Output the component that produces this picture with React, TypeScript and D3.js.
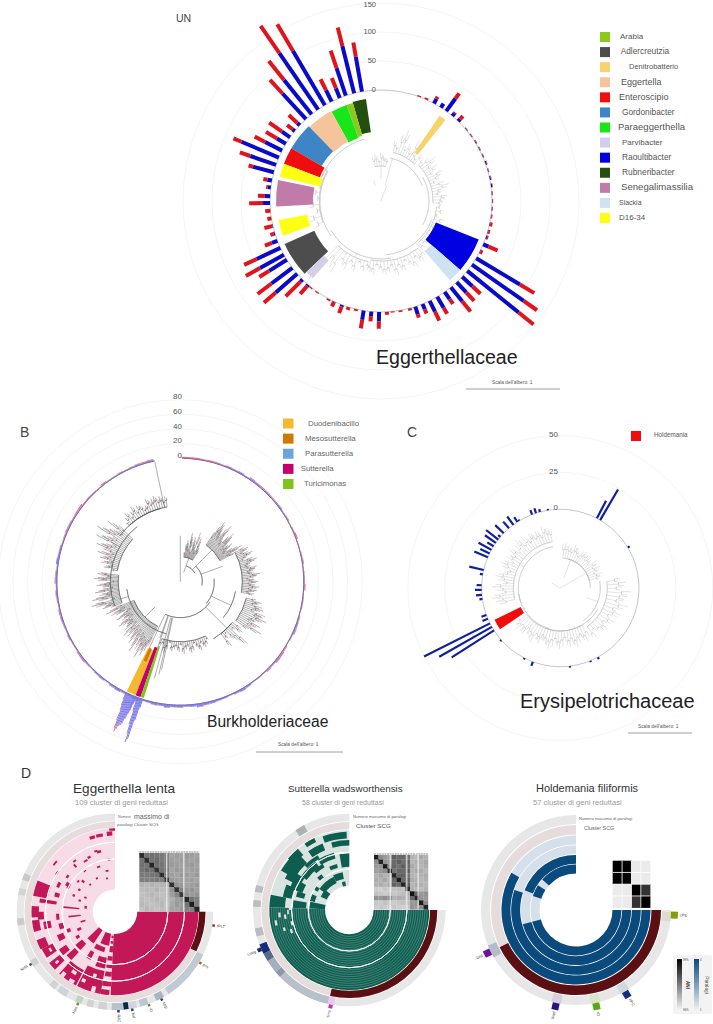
import * as d3 from 'd3'

const W = 713
const H = 1024
const rad = (d: number) => (d * Math.PI) / 180
const sector = d3.arc<any>()
const FONT = '"Liberation Sans", Arial, sans-serif'

// ---- Panel A: Eggerthellaceae ----
const aAngles = [20, 24, 28.5, 32.7, 36, 40, 44, 50, 54, 58, 62, 66, 70, 74, 78, 82, 86, 90, 94, 98, 102, 106, 109, 113, 117, 121, 125, 129, 133, 137, 141, 145, 149.6, 154, 158, 162, 165, 170, 174, 177, 181, 185, 189, 193, 197, 200.5, 205, 208, 215, 219, 221, 225, 229, 233, 238, 241, 245, 249, 253, 257, 261, 265, 269, 272.5, 277, 280.6, 285, 289, 293, 297, 301, 305, 309, 313, 317.5, 321.3, 325.5, 329.6, 333.6, 338.2, 341.5, 346, 350.1]
const aBlue = [0, 0, 9, 8, 27, 6, 5, 1, 1, 1, 1, 1, 2, 1, 2, 2, 1, 1, 1, 1, 1, 1, 2, 10, 1, 88, 109, 114, 24, 24, 31, 15, 22, 21, 10, 14, 1, 0, 0, 0, 16, 8, 16, 0, 0, 3, 1, 0, 0, 0, 3, 5, 49, 45, 36, 47, 45, 10, 2, 1, 0, 0, 12, 9, 5, 8, 37, 47, 70, 33, 18, 17, 5, 6, 60, 76, 118, 109, 22, 18, 50, 84, 61]
const aRed = [2, 3, 4, 0, 11, 2, 7, 1, 1, 1.5, 1, 1, 1, 1, 1, 1, 1, 1, 1, 1.5, 4, 3, 2, 17, 4, 29, 28, 33, 19, 20, 23, 10, 12, 17, 8, 6, 3, 3, 2, 5, 13, 9, 15, 3, 5, 12, 8, 3, 2, 2, 18, 36, 27, 30, 20, 28, 24, 13, 6, 14, 7, 9, 24, 12, 3, 7, 8, 19, 15, 20, 22, 27, 12, 20, 32, 42, 57, 53, 21, 19, 32, 33, 25]
const aTicks = [0, 50, 100, 150]
const aGenera = ['Arabia', 'Adlercreutzia', 'Denitrobatterio', 'Eggertella', 'Enteroscipio', 'Gordonibacter', 'Paraeggerthella', 'Parvibacter', 'Raoultibacter', 'Rubneribacter', 'Senegalimassilia', 'Slackia', 'D16-34']
const aColors = ['#8cc820', '#4d4d4d', '#f7d36b', '#f6c49b', '#f00d0d', '#3d85c6', '#19e619', '#d3cfe8', '#0000e0', '#24500f', '#c17ba8', '#cfe2f3', '#ffff14']
const aLabelX = [620, 620.7, 629, 621, 619, 622, 618, 622, 622, 622, 621, 619, 619]
const aLabelSize = [8, 8.3, 7.5, 9, 9, 8.3, 9.5, 8, 8.4, 8.4, 9.6, 7, 8]
// genus index, from, to, inner, outer
const aWedges = [
  [9, 344, 351.6, 69.5, 103], [0, 340.3, 344, 68, 102], [6, 331, 340.3, 67, 102], [3, 316, 331, 68, 103],
  [5, 300.5, 316, 69, 104], [4, 291, 300.5, 65.5, 104], [12, 283.5, 291, 62.5, 104], [10, 267, 281.5, 68, 105],
  [12, 250.5, 259.5, 75, 104], [1, 226.4, 246, 73, 105.5], [7, 221.5, 226.4, 79, 103], [2, 34.5, 38.5, 59, 103.5],
  [8, 111.5, 131, 59, 105], [11, 131, 139, 66.5, 105],
]

type Clade = { from: number; to: number; stem: number; tips: number[] }
const aClades: Clade[] = [
  { from: -10, to: 8, stem: 35, tips: [44, 47, 42, 48, 45, 43] },
  { from: 14, to: 42, stem: 50, tips: [62, 58, 70, 76, 60, 64, 58, 72, 60, 56, 62] },
  { from: 46, to: 92, stem: 52, tips: [58, 64, 70, 62, 66, 60, 68, 64, 58, 66, 70, 62, 60, 66, 64, 62] },
  { from: 96, to: 138, stem: 56, tips: [60, 63, 58, 66, 62, 60, 64, 70, 66, 62, 64] },
  { from: 142, to: 190, stem: 60, tips: [70, 74, 68, 76, 72, 66, 74, 70, 76, 68, 72, 74, 70, 66, 74, 72] },
  { from: 192, to: 224, stem: 62, tips: [68, 72, 66, 76, 70, 78, 74, 88, 80, 107] },
  { from: 250, to: 300, stem: 62, tips: [70, 74, 66, 72, 64, 68, 63, 66, 65, 64] },
]
const aBackbone = [[12, 70, 44], [60, 120, 48], [110, 175, 54], [170, 240, 58], [235, 300, 61], [290, 345, 64]]
const aStems = [[20, 0, 16], [340, 16, 22], [0, 22, 35], [15, 16, 44], [140, 54, 60], [205, 58, 62]]

// ---- Panel B: Burkholderiaceae ----
const bTicks = [0, 20, 40, 60, 80]
const bGenera = ['Duodenibacillo', 'Mesosutterella', 'Parasutterella', 'Sutterella', 'Turicimonas']
const bColors = ['#f5b82e', '#cc7a00', '#6aa6dc', '#c4006a', '#7dc41e']
const bLabelX = [308, 305, 305, 300.7, 304]
const bBlue = [0, 0, 0, 0, 0, 1, 1, 2, 1, 2, 1, 2, 2, 1, 2, 1, 1, 2, 1, 1, 0, 1, 1, 0, 0, 1, 1, 0, 1, 1, 1, 0, 1, 1, 0, 1, 2, 2, 1, 0, 1, 1, 2, 1, 1, 0, 1, 1, 2, 3, 2, 1, 2, 2, 3, 3, 4, 3, 2, 3, 3, 4, 3, 3, 2, 2, 3, 2, 2, 3, 2, 1, 2, 2, 1, 1, 2, 1, 1, 1, 2, 1, 1, 2, 1, 1, 1, 2, 1, 2, 2, 1, 3, 2, 2, 1, 1, 1, 2, 1, 1, 1, 0, 1, 1, 0, 1, 1, 1, 1, 1, 1, 2, 1, 2]
const bRed = [2, 2, 2, 1.5, 2, 1, .5, .5, 1, .5, .5, 1, .5, 1.5, .5, 1, 1, .5, .5, 1, .5, .5, 1.5, .5, .5, .5, 1, .5, .5, .5, 1.5, .5, .5, .5, .5, 1, .5, 1, .5, .5, 1, 2, 1.5, 1, 1.5, 1, .5, 0, .5, .5, .5, .5, 0, .5, 0, .5, .5, 0, .5, .5, 0, .5, 0, .5, .5, 0, .5, .5, .5, .5, 1, .5, .5, 0, .5, 1, 1, 1.5, .5, .5, .5, .5, 1, .5, 1.5, .5, 1, .5, .5, 1, .5, .5, 0, .5, .5, .5, 1, 1.5, .5, 1, 1.5, 2, 1.5, 1, .5, 1, 1.5, .5, .5, 1, .5, 1, .5, 1.5, 1]
const bLongAngles = [206, 205.6, 205.2, 204.8, 204.4, 204, 203.6, 203.2, 202.8, 202.4, 202, 201.7, 201.4, 201.1, 200.6, 200.2, 199.8, 199.4, 199, 198.6, 198.2, 197.8]
const bLongBlue = [8, 15, 22, 34, 44, 48, 46, 42, 40, 38, 30, 24, 18, 10, 6, 18, 36, 48, 62, 56, 30, 12]
const bLongRed = [2, 3, 3, 5, 7, 7, 5, 4, 4, 3, 3, 2, 2, 1, 1, 1, 2, 3, 1, 2, 1, 1]
const bWedges = [[0, 201.5, 206, 74, 122], [3, 199, 201.5, 70, 122], [4, 197.4, 199, 68, 122], [1, 203, 205, 73, 87]]
const bClades: Clade[] = [
  { from: 8, to: 30, stem: 25, tips: [30, 38, 42, 36, 50, 44, 33, 47, 40, 53, 35, 48, 41, 37] },
  { from: 35, to: 62, stem: 45, tips: [60, 68, 74, 72, 66, 62, 70, 75, 64, 60, 58, 66, 72, 68, 62, 56, 60, 64, 58, 55, 62, 67, 71, 59, 63] },
  { from: 62, to: 100, stem: 62, tips: [72, 76, 70, 74, 78, 72, 68, 76, 80, 74, 70, 72, 78, 76, 72, 74, 80, 76, 70, 74, 78, 72, 75, 79, 73, 77, 71, 75] },
  { from: 104, to: 125, stem: 68, tips: [78, 84, 80, 86, 88, 82, 92, 90, 95, 88, 84, 92, 87, 96, 83] },
  { from: 128, to: 142, stem: 66, tips: [76, 80, 72, 92, 84, 78, 70, 74, 82] },
  { from: 155, to: 198, stem: 60, tips: [64, 68, 70, 66, 72, 68, 64, 70, 72, 66, 68, 72, 64, 70, 66, 68, 70, 62, 69, 73, 65, 67] },
  { from: 207, to: 248, stem: 50, tips: [72, 78, 84, 80, 88, 76, 82, 72, 86, 78, 70, 80, 74, 68, 76, 72, 78, 66, 74, 70, 68, 72, 76, 64, 70, 66, 74, 68, 62, 72, 77, 69, 81, 73] },
  { from: 250, to: 276, stem: 62, tips: [74, 82, 78, 88, 92, 72, 84, 90, 78, 82, 74, 86, 80, 72, 78, 84, 76, 70, 82, 86, 75, 79, 83] },
  { from: 280, to: 312, stem: 64, tips: [70, 78, 74, 82, 76, 84, 80, 88, 78, 84, 92, 86, 80, 96, 90, 84, 100, 92, 88, 82, 94, 86] },
  { from: 318, to: 350, stem: 76, tips: [80, 84, 88, 82, 86, 90, 84, 88, 86, 82, 84, 90, 86, 88, 90, 86, 88, 84, 87] },
]
const bBackbone = [[250, 322, 70], [195, 262, 54], [125, 205, 36], [85, 130, 34], [45, 100, 22], [20, 60, 17], [100, 130, 56], [130, 150, 66], [307, 345, 76]]
const bStems = [[300, 70, 80], [254, 54, 62], [225, 36, 50], [200, 36, 60], [115, 34, 56], [135, 36, 66], [70, 22, 45], [45, 17, 45], [20, 10, 25], [0, 0, 46], [348, 76, 122], [195, 37, 100], [193, 37, 95], [192, 37, 90], [205, 37, 74], [199, 37, 88]]

// ---- Panel C: Erysipelotrichaceae ----
const cTicks = [0, 25, 50]
const cAngles = [27.7, 30.4, 59, 151.5, 157.6, 173, 200.4, 207, 228.5, 237.4, 240.4, 243.3, 247, 250, 262, 265, 268.7, 272, 280, 283.2, 293, 296, 299, 302, 305, 308, 310.5, 314, 319.3, 323.4, 327, 328.5, 339, 342, 345, 351]
const cValues = [13.4, 24, 1.5, 1.5, 1, 1, 3, 1, 1, 34, 41, 50, 4, 3.5, 2, 4, 4.5, 3.4, 2, 10, 10, 7, 10, 5, 9, 10.5, 2, 8, 6, 7, 4, 1, 3.2, 3.5, 2, 1]
const cClades: Clade[] = [
  { from: 5, to: 75, stem: 30, tips: [44, 45, 43, 42, 46, 44, 40, 43, 45, 42, 44, 40, 46, 43, 45, 41, 44, 42] },
  { from: 82, to: 145, stem: 47, tips: [60, 66, 62, 71, 68, 64, 70, 63, 66, 60, 64, 58, 62, 60, 56, 61] },
  { from: 150, to: 232, stem: 43, tips: [56, 60, 55, 58, 62, 57, 60, 54, 58, 61, 56, 59, 62, 58, 55, 60, 57, 62, 59, 56, 60, 58, 61, 57] },
  { from: 256, to: 350, stem: 47, tips: [62, 66, 70, 60, 64, 68, 58, 63, 66, 60, 56, 62, 65, 58, 62, 60, 64, 58, 62, 66, 60, 63, 59, 64, 60, 62, 58, 64, 61, 59] },
]
const cBackbone = [[15, 90, 30], [80, 145, 40], [120, 200, 43], [195, 262, 42], [250, 350, 42]]
const cStems = [[300, 0, 10], [60, 0, 28], [110, 28, 40], [20, 10, 30], [160, 40, 43], [240, 40, 45], [300, 42, 47]]

// ---- Panel D heatmaps: [from, to, inner %, outer %] ----
const d1Blocks = [
  [90, 183, 0, 100], [183, 188, 3, 7], [183, 188, 12, 16], [183, 188, 20, 30], [183, 189, 37, 44], [183, 189, 50, 56], [183, 189, 62, 70], [183, 190, 78, 86], [184, 190, 92, 100],
  [190, 207, 62, 100], [190, 200, 40, 58], [208, 222, 72, 100], [190, 205, 0, 20], [195, 210, 24, 32], [207, 212, 38, 52], [214, 226, 0, 26], [222, 230, 34, 48], [222, 228, 52, 70], [230, 236, 60, 74], [226, 232, 78, 100], [236, 243, 78, 98], [243, 250, 85, 100], [242, 248, 55, 66], [252, 258, 50, 58], [256, 262, 70, 82], [256, 264, 88, 100], [264, 270, 80, 90], [266, 274, 88, 100], [277, 280, 60, 88], [263, 265, 20, 40], [276, 281, 10, 14], [274, 276, 22, 48], [281, 292, 76, 100], [284, 288, 58, 66], [293, 298, 63, 68], [298, 302, 48, 56], [242, 246, 25, 32], [234, 238, 34, 40], [252, 255, 14, 22], [246, 250, 42, 48], [262, 268, 55, 60],
  [307, 311, 88, 91], [318, 320, 60, 66], [320, 323, 68, 71], [333, 336, 60, 64], [328, 332, 58, 61], [341, 345, 88, 93], [341, 344, 66, 69], [343, 347, 63, 67], [346, 351, 88, 93], [354, 358, 88, 95], [356, 360, 96, 100], [347, 351, 30, 33], [345, 348, 18, 21], [322, 325, 45, 47], [312, 315, 33, 38], [300, 303, 30, 34], [308, 311, 40, 43], [296, 299, 48, 52], [302, 305, 76, 79], [290, 293, 34, 38], [286, 289, 22, 26], [294, 297, 15, 19], [330, 333, 24, 27], [338, 342, 40, 43], [352, 355, 48, 51], [305, 308, 58, 62], [316, 319, 22, 25],
]
const d1Gaps = [[196, 199, 70, 76], [203, 206, 84, 90], [212, 216, 80, 86], [194, 197, 90, 100], [200, 203, 50, 54], [218, 221, 92, 100], [210, 214, 94, 100], [228, 230, 86, 92], [238, 241, 84, 88]]
const d2Blocks = [
  [90, 272, 0, 100], [272, 281, 72, 100], [272, 280, 34, 58], [272, 282, 0, 28], [281, 292, 62, 78], [284, 290, 40, 55],
  [300, 318, 70, 98], [296, 305, 55, 85], [305, 325, 50, 62], [325, 338, 72, 85], [340, 358, 85, 97], [345, 360, 72, 82], [315, 330, 63, 70], [318, 330, 45, 52], [328, 345, 52, 63], [305, 335, 10, 22], [335, 350, 13, 25], [350, 360, 34, 58], [295, 310, 1, 13], [290, 300, 46, 70], [310, 320, 85, 100], [335, 345, 35, 42], [315, 322, 30, 38], [345, 352, 0, 8], [283, 293, 20, 30], [326, 334, 92, 100], [300, 306, 22, 30],
]
const d2Gaps = [[262, 266, 70, 74], [255, 259, 60, 64], [248, 252, 65, 69], [266, 270, 65, 68], [258, 262, 88, 92], [270, 272, 60, 65], [264, 268, 80, 84], [252, 255, 76, 80]]
// Holdemania: one row of dark spans per genome
const d3Rows = [
  [[90, 255], [288, 303], [312, 360]],
  [[90, 255], [291, 360]],
  [[90, 288]],
  [[90, 300]],
]
// outer ring cells [from, to, colour]
const d1Ring: [number, number, string][] = [[116, 147, '#c0cad4'], [150, 155, '#aab6c4'], [160, 165, '#bac8d2'], [167, 172, '#ccd6dc'], [172, 175, '#0a2a4a'], [175, 182, '#b8c2ca'], [185, 190, '#d2d2d2'], [193, 197, '#d2d2d2'], [200, 204, '#c4d2c4'], [210, 216, '#ccd6d8'], [218, 222, '#d2d2d2'], [236, 240, '#ccd2d2'], [262, 266, '#cacaca'], [280, 284, '#d4d4d4'], [289, 293, '#cacaca']]
const d2Ring: [number, number, string][] = [[193, 226, '#b8c0cc'], [226, 230, '#8a9aa8'], [230, 238, '#a4b0bf'], [238, 243, '#566a8a'], [243, 249, '#1a2a7a'], [254, 259, '#bbbbc2'], [272, 276, '#bbbbc2'], [281, 285, '#bbbbc2'], [326, 332, '#a9b3b3'], [189, 193, '#ecc8f0']]
const d3Ring: [number, number, string][] = [[91, 97, '#dcdcd0'], [146, 152, '#d0d8e0'], [165, 171, '#d8e4cc'], [189, 195, '#d4d0e0'], [240, 248, '#b4bcc8']]
// marker square + label outside the ring [angle, colour, label]
const d1Marks: [number, string, string][] = [[98, '#8a3010', 'tPLT'], [121, '#b06020', 'pro'], [152, '#2a3a70', 'Mrp'], [160, '#609020', 'iO'], [170, '#2a3a70', 'Nrf'], [178, '#2a3a70', 'RdC'], [202, '#709020', 'Nos'], [238, '#555555', 'NrfA']]
const d2Marks: [number, string, string][] = [[191, '#c030c0', 'Tms'], [246, '#1a2a7a', 'Lmrg']]
const d3Marks: [number, string, string][] = [[93, '#8a9a10', 'cPE'], [149, '#14307a', 'hPC'], [168, '#55aa11', 'rO'], [192, '#2a1088', 'Nqrf'], [244, '#7010a0', 'Grd']]

// ANI matrices, darkness 0..1
const d1Matrix = [
  [.82, .55, .56, .54, .52, .5, .36, .38, .36, .4, .38, .36],
  [.55, .8, .55, .58, .52, .5, .38, .36, .38, .38, .36, .38],
  [.56, .55, .85, .56, .54, .5, .4, .38, .36, .38, .4, .36],
  [.54, .58, .56, .78, .55, .52, .36, .4, .38, .36, .38, .38],
  [.52, .52, .54, .55, .8, .5, .38, .36, .4, .38, .36, .4],
  [.5, .5, .5, .52, .5, .75, .4, .38, .38, .36, .38, .36],
  [.3, .28, .3, .28, .3, .32, .8, .42, .4, .36, .38, .4],
  [.26, .28, .26, .3, .26, .28, .42, .78, .48, .4, .42, .38],
  [.24, .26, .28, .26, .24, .28, .38, .48, .75, .42, .4, .42],
  [.26, .24, .26, .28, .26, .26, .32, .38, .42, .85, .55, .5],
  [.28, .26, .24, .26, .28, .24, .34, .4, .38, .55, .9, .5],
  [.24, .28, .26, .24, .26, .26, .36, .36, .4, .5, .5, .85],
]
const d1Seps = [5.5, 8.9]
const d2Matrix = [
  [.9, .45, .4, .38, .62, .58, .6, .55, .3, .28, .34, .3],
  [.45, .85, .42, .4, .58, .62, .56, .6, .28, .32, .3, .34],
  [.4, .42, .9, .45, .6, .56, .62, .58, .34, .3, .28, .32],
  [.38, .4, .45, .82, .55, .6, .58, .62, .3, .34, .32, .28],
  [.3, .34, .3, .32, .85, .6, .62, .55, .3, .28, .3, .32],
  [.32, .3, .34, .3, .6, .9, .58, .6, .32, .3, .28, .3],
  [.3, .32, .28, .34, .62, .58, .85, .62, .28, .32, .3, .28],
  [.2, .18, .22, .2, .24, .26, .24, .8, .3, .28, .26, .3],
  [.24, .22, .2, .24, .22, .24, .26, .3, .95, .6, .4, .42],
  [.42, .4, .44, .42, .3, .32, .3, .28, .6, .85, .42, .4],
  [.22, .2, .24, .22, .2, .22, .24, .26, .4, .42, .9, .45],
  [.2, .22, .2, .18, .22, .2, .18, .22, .42, .4, .45, .85],
]
const d2Seps = [3.6, 7.3, 9.8]
const d3Matrix = [
  [1, 1, .08, .08],
  [1, 1, .08, .08],
  [.08, .08, 1, .8],
  [.08, .08, .8, 1],
]

function Polar({ a, r0, r1, stroke, width }: { a: number; r0: number; r1: number; stroke: string; width: number }) {
  const p0 = d3.pointRadial(rad(a), r0)
  const p1 = d3.pointRadial(rad(a), r1)
  return <line x1={p0[0]} y1={p0[1]} x2={p1[0]} y2={p1[1]} stroke={stroke} strokeWidth={width} />
}

function ThinArc({ a0, a1, r, stroke, width }: { a0: number; a1: number; r: number; stroke: string; width: number }) {
  return (
    <path
      d={sector({ innerRadius: r, outerRadius: r, startAngle: rad(a0), endAngle: rad(a1) }) || ''}
      fill="none"
      stroke={stroke}
      strokeWidth={width}
    />
  )
}

function Tree({ clades, backbone, stems, color, accent, width }: { clades: Clade[]; backbone: number[][]; stems: number[][]; color: string; accent?: string; width: number }) {
  return (
    <g>
      {backbone.map((b, i) => <ThinArc key={i} a0={b[0]} a1={b[1]} r={b[2]} stroke={color} width={width} />)}
      {stems.map((s, i) => <Polar key={i} a={s[0]} r0={s[1]} r1={s[2]} stroke={color} width={width} />)}
      {clades.map((c, i) => {
        const angle = d3.scaleLinear().domain([0, c.tips.length - 1]).range([c.from, c.to])
        const fork = (c.to - c.from) / (c.tips.length - 1) * 0.34
        return (
          <g key={i}>
            <ThinArc a0={c.from} a1={c.to} r={c.stem} stroke={color} width={width} />
            {c.tips.map((t, j) => {
              // each leaf pair hangs off a short node between stem and tip
              const mid = c.stem + (t - c.stem) * 0.6
              const a = angle(j)
              const tone = accent && j % 3 === 0 ? accent : color
              return (
                <g key={j}>
                  <Polar a={a} r0={c.stem} r1={mid} stroke={color} width={width} />
                  <ThinArc a0={a - fork} a1={a + fork} r={mid} stroke={color} width={width} />
                  <Polar a={a - fork} r0={mid} r1={t} stroke={tone} width={width} />
                  <Polar a={a + fork} r0={mid} r1={c.stem + (t - c.stem) * 0.85} stroke={color} width={width} />
                </g>
              )
            })}
          </g>
        )
      })}
    </g>
  )
}

function Grid({ radii, stroke }: { radii: number[]; stroke: string }) {
  return <g fill="none" stroke={stroke} strokeWidth={0.7}>{radii.map(r => <circle key={r} r={r} />)}</g>
}

function ScaleBar({ x0, x1, y, tx, ty }: { x0: number; x1: number; y: number; tx: number; ty: number }) {
  return (
    <g>
      <line x1={x0} x2={x1} y1={y} y2={y} stroke="#888" strokeWidth={0.8} />
      <text x={tx} y={ty} fontSize={4.8} fill="#555" dominantBaseline="middle">Scala dell'albero: 1</text>
    </g>
  )
}

function PanelA() {
  const r = d3.scaleLinear().domain([0, 150]).range([111, 198])
  const blueBar = '#0a0ac8'
  const redBar = '#e0141c'
  return (
    <g>
      <g transform="translate(381,201)">
        <Grid radii={aTicks.slice(1).map(t => r(t))} stroke="#f1f1f1" />
        <circle r={r(0)} fill="none" stroke="#8a8a8a" strokeWidth={0.5} />
        <Tree clades={aClades} backbone={aBackbone} stems={aStems} color="#b0b0b0" width={0.35} />
        {aWedges.map((w, i) => (
          <path key={i} fill={aColors[w[0]]} d={sector({ innerRadius: w[3], outerRadius: w[4], startAngle: rad(w[1]), endAngle: rad(w[2]) }) || ''} />
        ))}
        {aAngles.map((a, i) => (
          <g key={i}>
            <Polar a={a} r0={r(0)} r1={r(aBlue[i])} stroke={blueBar} width={4} />
            <Polar a={a} r0={r(aBlue[i])} r1={r(aBlue[i] + aRed[i])} stroke={redBar} width={4} />
          </g>
        ))}
      </g>
      {aTicks.map(t => (
        <text key={t} x={376} y={Math.max(201 - r(t), 5)} fontSize={7.5} fill="#555" textAnchor="end" dominantBaseline="middle">{t}</text>
      ))}
      <text x={176} y={19} fontSize={10.5} fill="#444" dominantBaseline="middle">UN</text>
      {aGenera.map((g, i) => {
        const y = d3.scaleLinear().domain([0, 12]).range([37, 218])(i)
        return (
          <g key={g}>
            <rect x={600} y={y - 5} width={10} height={10} fill={aColors[i]} />
            <text x={aLabelX[i]} y={y} fontSize={aLabelSize[i]} fill="#555" dominantBaseline="middle">{g}</text>
          </g>
        )
      })}
      <text x={376} y={359} fontSize={19.6} fill="#222" dominantBaseline="middle">Eggerthellaceae</text>
      <ScaleBar x0={466} x1={560} y={389} tx={492} ty={383} />
    </g>
  )
}

function PanelB() {
  const r = d3.scaleLinear().domain([0, 80]).range([123.5, 182])
  const angle = d3.scaleLinear().domain([0, bBlue.length - 1]).range([2, 346])
  const lav = '#7272ea'
  const pink = '#e0567a'
  return (
    <g>
      <g transform="translate(180.3,581.7)">
        <Grid radii={bTicks.slice(1).map(t => r(t))} stroke="#f1f1f1" />
        <ThinArc a0={1} a1={348} r={r(0)} stroke="#6a5a80" width={0.7} />
        <Tree clades={bClades} backbone={bBackbone} stems={bStems} color="#4a4a4a" accent="#c8506e" width={0.45} />
        {bWedges.map((w, i) => (
          <path key={i} fill={bColors[w[0]]} d={sector({ innerRadius: w[3], outerRadius: w[4], startAngle: rad(w[1]), endAngle: rad(w[2]) }) || ''} />
        ))}
        <g opacity={0.85}>
          {bBlue.map((v, i) => (
            <g key={i}>
              <Polar a={angle(i)} r0={r(0)} r1={r(v)} stroke={lav} width={6.5} />
              <Polar a={angle(i)} r0={r(v)} r1={r(v + bRed[i])} stroke={pink} width={6.5} />
            </g>
          ))}
        </g>
        {bLongAngles.map((a, i) => (
          <g key={i}>
            <Polar a={a} r0={r(0)} r1={r(bLongBlue[i])} stroke={lav} width={0.95} />
            <Polar a={a} r0={r(bLongBlue[i])} r1={r(bLongBlue[i] + bLongRed[i])} stroke={pink} width={0.8} />
          </g>
        ))}
      </g>
      {bTicks.map(t => (
        <text key={t} x={182} y={579.3 - r(t)} fontSize={8} fill="#555" textAnchor="end" dominantBaseline="middle">{t}</text>
      ))}
      <text x={20} y={433} fontSize={14} fill="#444" dominantBaseline="middle">B</text>
      {bGenera.map((g, i) => {
        const y = d3.scaleLinear().domain([0, 4]).range([423.5, 484])(i)
        return (
          <g key={g}>
            <rect x={283} y={y - 5} width={10.5} height={10} fill={bColors[i]} />
            <text x={bLabelX[i]} y={y} fontSize={7.8} fill="#666" dominantBaseline="middle">{g}</text>
          </g>
        )
      })}
      <text x={207} y={723} fontSize={15.6} fill="#222" dominantBaseline="middle">Burkholderiaceae</text>
      <ScaleBar x0={256} x1={343} y={752} tx={278} ty={745} />
    </g>
  )
}

function PanelC() {
  const r = d3.scaleLinear().domain([0, 50]).range([78.7, 152.5])
  return (
    <g>
      <g transform="translate(560.3,588)">
        <Grid radii={cTicks.slice(1).map(t => r(t))} stroke="#f0f0f0" />
        <circle r={r(0)} fill="none" stroke="#8a8a98" strokeWidth={0.5} />
        <Tree clades={cClades} backbone={cBackbone} stems={cStems} color="#b0b0b0" width={0.35} />
        <path fill="#f20d0d" d={sector({ innerRadius: 44, outerRadius: 73, startAngle: rad(235.5), endAngle: rad(244.3) }) || ''} />
        {cAngles.map((a, i) => (
          <Polar key={i} a={a} r0={r(0)} r1={r(cValues[i])} stroke="#111f9a" width={2.2} />
        ))}
      </g>
      {cTicks.map(t => (
        <text key={t} x={558} y={587 - r(t)} fontSize={8} fill="#555" textAnchor="end" dominantBaseline="middle">{t}</text>
      ))}
      <text x={407} y={433} fontSize={14} fill="#444" dominantBaseline="middle">C</text>
      <rect x={631} y={431} width={10} height={10} fill="#f20d0d" />
      <text x={654} y={435} fontSize={6.3} fill="#555" dominantBaseline="middle">Holdemania</text>
      <text x={520} y={703} fontSize={20} fill="#222" dominantBaseline="middle">Erysipelotrichaceae</text>
      <ScaleBar x0={628} x1={692} y={733} tx={638} ty={727} />
    </g>
  )
}

function Matrix({ values, x, y, width, height, seps }: { values: number[][]; x: number; y: number; width: number; height: number; seps?: number[] }) {
  const idx = d3.range(values.length)
  const gray = d3.scaleLinear<string>().domain([0, 1]).range(['#ffffff', '#000000'])
  const bx = d3.scaleBand<number>().domain(idx).range([x, x + width])
  const by = d3.scaleBand<number>().domain(idx).range([y, y + height])
  return (
    <g>
      <g filter={seps ? 'url(#soft)' : undefined}>
        {values.map((row, i) => row.map((v, j) => (
          <rect key={`${i}-${j}`} x={bx(j)} y={by(i)} width={bx.bandwidth() + 0.2} height={by.bandwidth() + 0.2} fill={gray(v)} />
        )))}
      </g>
      {seps && <line x1={x} y1={y} x2={x + width} y2={y + height} stroke="#222" strokeWidth={0.9} opacity={0.75} />}
      {seps && seps.map(s => {
        const sx = d3.scaleLinear().domain([0, values.length]).range([x, x + width])(s)
        return <line key={s} x1={sx} x2={sx} y1={y - 3} y2={y + height} stroke="#fff" strokeWidth={0.9} />
      })}
      {seps && <path d={`M${x},${y - 1}H${x + width}`} stroke="#c4c4c4" strokeWidth={2} strokeDasharray="2 0.6" fill="none" />}
    </g>
  )
}

interface HeatProps {
  cx: number; cy: number; hub: number; heat: number
  scg: [number, number]; outer: [number, number]; maroonEnd: number
  pale: string; dark: string; seps: number[]
  blocks?: number[][]; gaps?: number[][]; rows?: number[][][]
  ring: [number, number, string][]; marks: [number, string, string][]; markSize: number
  stripes?: boolean
}

function Heat({ cx, cy, hub, heat, scg, outer, maroonEnd, pale, dark, seps, blocks, gaps, rows, ring, marks, markSize, stripes }: HeatProps) {
  const depth = d3.scaleLinear().domain([0, 100]).range([hub, heat])
  const wedge = (a0: number, a1: number, r0: number, r1: number) =>
    sector({ innerRadius: r0, outerRadius: r1, startAngle: rad(a0), endAngle: rad(a1) }) || ''
  const band = rows ? d3.scaleBand<number>().domain(d3.range(rows.length)).range([hub, heat]).paddingInner(0.08) : null
  return (
    <g transform={`translate(${cx},${cy})`}>
      <path d={wedge(90, 360, outer[0], outer[1])} fill="#e7e7e7" />
      <path d={wedge(90, 360, scg[0], scg[1])} fill="#e6dcdc" />
      <path d={wedge(90, maroonEnd, scg[0], scg[1])} fill="#5a0f12" />
      {!rows && <path d={wedge(90, 360, hub, heat)} fill={pale} />}
      {blocks && blocks.map((b, i) => <path key={i} d={wedge(b[0], b[1], depth(b[2]), depth(b[3]))} fill={dark} />)}
      {gaps && gaps.map((b, i) => <path key={i} d={wedge(b[0], b[1], depth(b[2]), depth(b[3]))} fill={pale} />)}
      {stripes && d3.range(4, 100, 4).map(p => <ThinArc key={p} a0={90} a1={272} r={depth(p)} stroke="#ffffff" width={0.12} />)}
      {rows && band && rows.map((spans, i) => (
        <g key={i}>
          <path d={wedge(90, 360, band(i)!, band(i)! + band.bandwidth())} fill={pale} />
          {spans.map((s, j) => <path key={j} d={wedge(s[0], s[1], band(i)!, band(i)! + band.bandwidth())} fill={dark} />)}
        </g>
      ))}
      {seps.map(s => <ThinArc key={s} a0={90} a1={360} r={depth(s)} stroke="#fff" width={0.9} />)}
      {ring.map((c, i) => <path key={i} d={wedge(c[0], c[1], outer[0], outer[1])} fill={c[2]} />)}
      {marks.map(([a, color, label]) => {
        const p = d3.pointRadial(rad(a), outer[1] + markSize / 2)
        const t = d3.pointRadial(rad(a), outer[1] + markSize + 2)
        const left = a > 180
        return (
          <g key={label}>
            <rect x={p[0] - markSize / 2} y={p[1] - markSize / 2} width={markSize} height={markSize} fill={color} transform={`rotate(${a},${p[0]},${p[1]})`} />
            <text
              x={t[0]} y={t[1]} fontSize={4} fill="#444" dominantBaseline="middle"
              textAnchor={left ? 'end' : 'start'}
              transform={`rotate(${left ? a + 90 : a - 90},${t[0]},${t[1]})`}
            >{label}</text>
          </g>
        )
      })}
    </g>
  )
}

function PanelD() {
  return (
    <g>
      <defs>
        <filter id="soft"><feGaussianBlur stdDeviation="0.7" /></filter>
        <linearGradient id="aniGrad" x1="0" y1="0" x2="0" y2="1">
          <stop offset="0" stopColor="#000" />
          <stop offset="1" stopColor="#f4f4f4" />
        </linearGradient>
        <linearGradient id="parGrad" x1="0" y1="0" x2="0" y2="1">
          <stop offset="0" stopColor="#0b4a7c" />
          <stop offset="1" stopColor="#f0f2f5" />
        </linearGradient>
      </defs>
      <text x={21} y={774} fontSize={14} fill="#333" dominantBaseline="middle">D</text>
      <text x={73} y={789} fontSize={13.6} fill="#333" dominantBaseline="middle">Eggerthella lenta</text>
      <text x={75} y={803} fontSize={7.6} fill="#999" dominantBaseline="middle">109 cluster di geni reduttasi</text>
      <text x={118} y={817} fontSize={3.6} fill="#666" dominantBaseline="middle">Numero</text>
      <text x={134} y={817} fontSize={7} fill="#666" dominantBaseline="middle">massimo di</text>
      <text x={117} y={825} fontSize={4.4} fill="#666" dominantBaseline="middle">paralogi Cluster SCG</text>
      <Heat cx={115} cy={911.7} hub={22.3} heat={83.5} scg={[84, 90.5]} outer={[91.3, 98.3]} maroonEnd={116} pale="#f7dbe6" dark="#c21858" seps={[50, 77]} blocks={d1Blocks} gaps={d1Gaps} ring={d1Ring} marks={d1Marks} markSize={2.5} />
      <Matrix values={d1Matrix} x={139.3} y={853} width={60} height={58.7} seps={d1Seps} />

      <text x={288} y={789} fontSize={9.9} fill="#333" dominantBaseline="middle">Sutterella wadsworthensis</text>
      <text x={302} y={803} fontSize={7} fill="#999" dominantBaseline="middle">58 cluster di geni reduttasi</text>
      <text x={353} y={817} fontSize={4.2} fill="#666" dominantBaseline="middle">Numero massimo di paralogi</text>
      <text x={356} y={826} fontSize={6.2} fill="#555" dominantBaseline="middle">Cluster SCG</text>
      <Heat cx={349.3} cy={910} hub={24.3} heat={80} scg={[80.8, 88]} outer={[88.8, 96.3]} maroonEnd={192.6} pale="#d9e4e1" dark="#0e5e50" seps={[30, 60]} blocks={d2Blocks} gaps={d2Gaps} ring={d2Ring} marks={d2Marks} markSize={4} stripes />
      <Matrix values={d2Matrix} x={374} y={855} width={54} height={54.5} seps={d2Seps} />

      <text x={536} y={789} fontSize={11} fill="#333" dominantBaseline="middle">Holdemania filiformis</text>
      <text x={533} y={803} fontSize={7.6} fill="#999" dominantBaseline="middle">57 cluster di geni reduttasi</text>
      <text x={579} y={819} fontSize={4.2} fill="#666" dominantBaseline="middle">Numero massimo di paralogi</text>
      <text x={584} y={829} fontSize={5.4} fill="#666" dominantBaseline="middle">Cluster SCG</text>
      <Heat cx={576} cy={910} hub={36.5} heat={74.5} scg={[75.5, 85]} outer={[86, 95]} maroonEnd={244} pale="#d6e0ea" dark="#0b4a7c" seps={[]} rows={d3Rows} ring={d3Ring} marks={d3Marks} markSize={7} />
      <Matrix values={d3Matrix} x={612.7} y={860.7} width={37.5} height={47} />
      {d3.range(1, 4).map(i => (
        <g key={i} stroke="#fff" strokeWidth={0.8}>
          <line x1={612.7 + i * 9.375} x2={612.7 + i * 9.375} y1={860.7} y2={907.7} />
          <line x1={612.7} x2={650.2} y1={860.7 + i * 11.75} y2={860.7 + i * 11.75} />
        </g>
      ))}

      <rect x={673} y={955} width={39} height={59} rx={2} fill="#f3f3f3" />
      <rect x={677} y={959} width={5} height={51} fill="url(#aniGrad)" />
      <rect x={694} y={959} width={5} height={51} fill="url(#parGrad)" />
      <text x={683} y={960} fontSize={2.8} fill="#444" dominantBaseline="middle">99%</text>
      <text x={683} y={1010} fontSize={2.8} fill="#444" dominantBaseline="middle">96%</text>
      <text x={700} y={960} fontSize={2.8} fill="#444" dominantBaseline="middle">4</text>
      <text x={700} y={1010} fontSize={2.8} fill="#444" dominantBaseline="middle">1</text>
      <text x={687} y={985} fontSize={4.6} fontWeight="bold" fill="#333" textAnchor="middle" dominantBaseline="middle" transform="rotate(90,687,985)">ANI</text>
      <text x={706} y={985} fontSize={4.8} fill="#444" textAnchor="middle" dominantBaseline="middle" transform="rotate(90,706,985)">Paralogi</text>
    </g>
  )
}

export default function App() {
  return (
    <svg width={W} height={H} viewBox={`0 0 ${W} ${H}`} style={{ position: 'absolute', left: 0, top: 0, background: '#fff', fontFamily: FONT }}>
      <PanelA />
      <PanelB />
      <PanelC />
      <PanelD />
    </svg>
  )
}
